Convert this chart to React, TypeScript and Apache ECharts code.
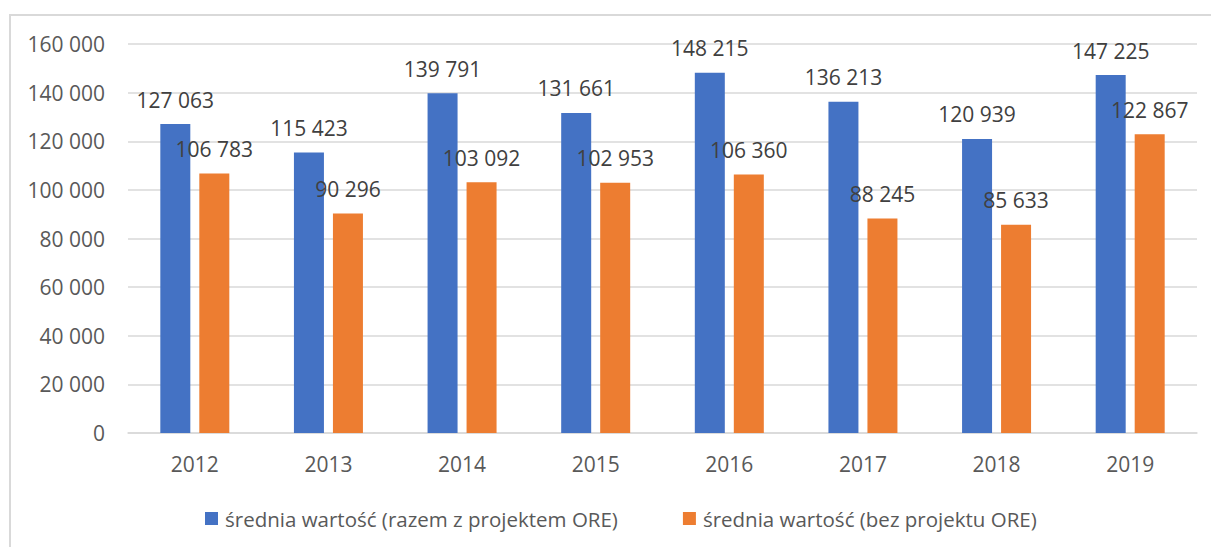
import React, { useEffect, useRef } from "react";
import * as echarts from "echarts";

const categories = ["2012", "2013", "2014", "2015", "2016", "2017", "2018", "2019"];
const seriesNames = [
  "średnia wartość (razem z projektem ORE)",
  "średnia wartość (bez projektu ORE)",
];
const withOre = [127063, 115423, 139791, 131661, 148215, 136213, 120939, 147225];
const withoutOre = [106783, 90296, 103092, 102953, 106360, 88245, 85633, 122867];
const yTicks = { min: 0, max: 160000, interval: 20000 };

const fmt = (v: number) => String(Math.round(v)).replace(/\B(?=(\d{3})+(?!\d))/g, " ");

const FONT = "'Open Sans', sans-serif";

export default function App() {
  const ref = useRef<HTMLDivElement>(null);
  useEffect(() => {
    document.body.style.margin = "0";
    const chart = echarts.init(ref.current!, undefined, { renderer: "svg" });
    const labelCfg = {
      show: true,
      position: "top" as const,
      distance: 14,
      color: "#404040",
      fontSize: 21,
      fontFamily: FONT,
      formatter: (p: any) => fmt(p.value),
    };
    chart.setOption({
      animation: false,
      backgroundColor: "#ffffff",
      textStyle: { fontFamily: FONT },
      graphic: [
        {
          type: "rect",
          shape: { x: 10, y: 15, width: 1400, height: 700 },
          style: { fill: "none", stroke: "#d9d9d9", lineWidth: 2 },
          silent: true,
        },
      ],
      grid: { left: 128, right: 14, top: 44, bottom: 114, containLabel: false },
      legend: {
        left: 200,
        top: 503,
        itemWidth: 13,
        itemHeight: 13,
        itemGap: 65,
        icon: "rect",
        textStyle: { color: "#595959", fontSize: 20.5, fontFamily: FONT, padding: [0, 0, 0, 2] },
        data: seriesNames,
      },
      xAxis: {
        type: "category",
        data: categories,
        axisTick: { show: false },
        axisLine: { show: true, lineStyle: { color: "#d9d9d9", width: 1.5 } },
        axisLabel: { color: "#595959", fontSize: 21, fontFamily: FONT, margin: 20 },
      },
      yAxis: {
        type: "value",
        min: yTicks.min,
        max: yTicks.max,
        interval: yTicks.interval,
        axisLine: { show: false },
        axisTick: { show: false },
        splitLine: { lineStyle: { color: "#d9d9d9", width: 1.5 } },
        axisLabel: {
          color: "#595959",
          fontSize: 21,
          fontFamily: FONT,
          margin: 23,
          formatter: (v: number) => fmt(v),
        },
      },
      series: [
        {
          name: seriesNames[0],
          type: "bar",
          data: withOre,
          barWidth: 30,
          barGap: "30%",
          itemStyle: { color: "#4472c4" },
          label: labelCfg,
        },
        {
          name: seriesNames[1],
          type: "bar",
          data: withoutOre,
          barWidth: 30,
          barGap: "30%",
          itemStyle: { color: "#ed7d31" },
          label: labelCfg,
        },
      ],
    });
    return () => chart.dispose();
  }, []);
  return <div ref={ref} style={{ width: 1211, height: 547 }} />;
}
